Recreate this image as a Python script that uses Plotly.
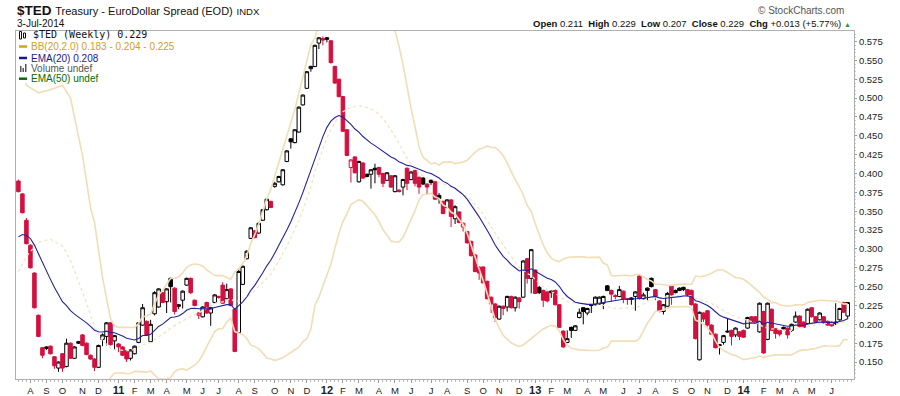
import numpy as np
import pandas as pd
import plotly.graph_objects as go

# ---------------- data (weekly $TED) ----------------
first_week = "2010-07-12"

opens = [0.390,0.373,0.338,0.305,0.268,0.212,0.169,0.170,0.171,0.157,
         0.142,0.161,0.144,0.175,0.155,0.177,0.186,0.175,0.159,0.154,
         0.143,0.180,0.184,0.202,0.178,0.174,0.170,0.165,0.155,0.161,
         0.176,0.199,0.204,0.177,0.214,0.223,0.242,0.230,0.261,0.248,
         0.226,0.232,0.252,0.261,0.232,0.212,0.210,0.229,0.215,0.229,
         0.237,0.252,0.234,0.247,0.220,0.189,0.253,0.287,0.314,0.324,
         0.321,0.338,0.352,0.363,0.383,0.389,0.385,0.416,0.446,0.441,
         0.455,0.491,0.513,0.539,0.542,0.573,0.579,0.580,0.576,0.542,
         0.525,0.502,0.458,0.408,0.422,0.389,0.414,0.399,0.399,0.407,
         0.408,0.400,0.391,0.397,0.376,0.378,0.382,0.407,0.392,0.404,
         0.395,0.394,0.386,0.391,0.389,0.371,0.363,0.355,0.365,0.340,
         0.349,0.329,0.323,0.310,0.292,0.276,0.276,0.257,0.236,0.227,
         0.207,0.224,0.223,0.237,0.222,0.235,0.236,0.287,0.261,0.272,
         0.249,0.245,0.243,0.244,0.245,0.226,0.191,0.176,0.196,0.192,
         0.209,0.222,0.215,0.225,0.226,0.227,0.228,0.251,0.245,0.238,
         0.237,0.244,0.234,0.235,0.237,0.264,0.234,0.248,0.261,0.246,
         0.231,0.217,0.224,0.251,0.245,0.248,0.249,0.246,0.245,0.227,
         0.153,0.215,0.218,0.199,0.187,0.173,0.176,0.191,0.192,0.186,
         0.190,0.192,0.195,0.210,0.210,0.190,0.217,0.180,0.220,0.194,
         0.192,0.196,0.195,0.192,0.203,0.211,0.203,0.201,0.222,0.210,
         0.206,0.210,0.204,0.203,0.201,0.206,0.229,0.211]

highs = [0.392,0.374,0.341,0.306,0.269,0.213,0.170,0.171,0.172,0.158,
         0.151,0.162,0.181,0.176,0.171,0.178,0.187,0.176,0.160,0.155,
         0.173,0.188,0.203,0.203,0.186,0.175,0.171,0.166,0.167,0.172,
         0.203,0.227,0.205,0.206,0.244,0.248,0.243,0.248,0.262,0.249,
         0.227,0.245,0.262,0.262,0.233,0.216,0.224,0.230,0.223,0.240,
         0.238,0.256,0.254,0.248,0.221,0.273,0.278,0.298,0.329,0.325,
         0.335,0.353,0.367,0.364,0.389,0.397,0.406,0.431,0.447,0.459,
         0.489,0.505,0.536,0.543,0.571,0.581,0.582,0.581,0.577,0.543,
         0.526,0.503,0.459,0.419,0.423,0.417,0.415,0.400,0.406,0.413,
         0.409,0.401,0.402,0.398,0.398,0.379,0.393,0.408,0.403,0.405,
         0.396,0.395,0.387,0.392,0.390,0.374,0.364,0.366,0.366,0.358,
         0.350,0.335,0.324,0.311,0.293,0.277,0.277,0.258,0.237,0.228,
         0.225,0.225,0.238,0.238,0.237,0.236,0.285,0.288,0.300,0.273,
         0.251,0.246,0.244,0.245,0.246,0.227,0.192,0.192,0.197,0.199,
         0.221,0.223,0.222,0.227,0.237,0.237,0.238,0.252,0.246,0.240,
         0.251,0.245,0.235,0.236,0.244,0.265,0.242,0.249,0.262,0.247,
         0.232,0.227,0.243,0.252,0.246,0.249,0.250,0.247,0.246,0.228,
         0.217,0.216,0.219,0.200,0.188,0.174,0.186,0.208,0.193,0.196,
         0.191,0.193,0.210,0.211,0.211,0.229,0.218,0.229,0.221,0.195,
         0.193,0.197,0.196,0.201,0.217,0.212,0.204,0.221,0.223,0.211,
         0.216,0.211,0.205,0.204,0.228,0.222,0.230,0.229]

lows = [0.375,0.347,0.306,0.274,0.221,0.183,0.155,0.166,0.160,0.141,
        0.137,0.137,0.143,0.154,0.154,0.174,0.171,0.159,0.153,0.138,
        0.142,0.171,0.172,0.172,0.166,0.163,0.158,0.150,0.152,0.160,
        0.175,0.198,0.185,0.176,0.212,0.222,0.228,0.215,0.229,0.213,
        0.220,0.221,0.251,0.240,0.224,0.207,0.209,0.214,0.198,0.228,
        0.234,0.227,0.233,0.224,0.163,0.188,0.252,0.286,0.313,0.314,
        0.320,0.337,0.351,0.354,0.381,0.388,0.384,0.415,0.433,0.440,
        0.454,0.490,0.512,0.535,0.541,0.565,0.570,0.574,0.546,0.519,
        0.501,0.455,0.423,0.388,0.400,0.388,0.393,0.395,0.380,0.387,
        0.395,0.382,0.390,0.381,0.375,0.375,0.371,0.378,0.391,0.383,
        0.373,0.385,0.372,0.385,0.365,0.360,0.346,0.354,0.329,0.333,
        0.334,0.323,0.307,0.290,0.269,0.259,0.254,0.233,0.215,0.203,
        0.206,0.212,0.217,0.221,0.217,0.221,0.235,0.254,0.241,0.240,
        0.240,0.223,0.229,0.235,0.225,0.195,0.169,0.175,0.182,0.191,
        0.208,0.200,0.212,0.215,0.225,0.226,0.220,0.244,0.230,0.233,
        0.236,0.228,0.226,0.226,0.218,0.233,0.233,0.232,0.249,0.232,
        0.216,0.213,0.223,0.226,0.241,0.244,0.244,0.237,0.225,0.180,
        0.152,0.203,0.197,0.186,0.168,0.160,0.173,0.189,0.172,0.183,
        0.179,0.182,0.194,0.202,0.201,0.189,0.161,0.179,0.191,0.181,
        0.184,0.193,0.181,0.190,0.202,0.196,0.195,0.200,0.209,0.202,
        0.205,0.201,0.198,0.197,0.199,0.205,0.215,0.207]

closes = [0.376,0.348,0.307,0.275,0.222,0.184,0.159,0.168,0.161,0.145,
          0.150,0.142,0.175,0.155,0.170,0.175,0.172,0.160,0.154,0.143,
          0.172,0.186,0.202,0.173,0.185,0.170,0.159,0.154,0.166,0.171,
          0.202,0.222,0.186,0.200,0.242,0.247,0.229,0.247,0.250,0.217,
          0.224,0.244,0.261,0.242,0.225,0.215,0.223,0.215,0.222,0.239,
          0.236,0.228,0.246,0.225,0.164,0.270,0.277,0.297,0.328,0.315,
          0.334,0.352,0.366,0.355,0.387,0.396,0.405,0.430,0.442,0.458,
          0.488,0.504,0.535,0.542,0.570,0.580,0.577,0.578,0.547,0.520,
          0.502,0.456,0.424,0.418,0.401,0.416,0.394,0.396,0.405,0.405,
          0.399,0.387,0.401,0.382,0.397,0.376,0.392,0.387,0.402,0.387,
          0.382,0.386,0.382,0.388,0.366,0.367,0.347,0.365,0.343,0.356,
          0.335,0.334,0.308,0.291,0.270,0.268,0.255,0.234,0.227,0.209,
          0.224,0.221,0.237,0.222,0.236,0.230,0.284,0.261,0.299,0.241,
          0.242,0.232,0.231,0.242,0.226,0.196,0.170,0.181,0.192,0.198,
          0.216,0.217,0.221,0.226,0.236,0.236,0.237,0.245,0.240,0.237,
          0.246,0.234,0.233,0.233,0.243,0.234,0.239,0.245,0.250,0.237,
          0.217,0.226,0.241,0.239,0.242,0.245,0.246,0.239,0.226,0.181,
          0.216,0.207,0.199,0.187,0.169,0.172,0.185,0.190,0.184,0.195,
          0.184,0.183,0.209,0.203,0.202,0.228,0.162,0.228,0.192,0.188,
          0.187,0.194,0.186,0.200,0.211,0.197,0.196,0.220,0.210,0.203,
          0.215,0.202,0.199,0.198,0.203,0.221,0.216,0.229]

# EMA(20) value at the first visible bar
ema_seed = 0.316

# Bollinger band values for bars before a full 20-bar window
bb_early_idx = [0, 2, 5, 8, 11, 13, 16, 18]
bb_upper_early = [0.545, 0.517, 0.507, 0.511, 0.517, 0.500, 0.424, 0.355]
bb_mid_early = [0.270, 0.290, 0.309, 0.313, 0.304, 0.285, 0.243, 0.212]

month_labels = ["A", "S", "O", "N", "D", "11", "F", "M", "A", "M", "J", "J",
                "A", "S", "O", "N", "D", "12", "F", "M", "A", "M", "J", "J",
                "A", "S", "O", "N", "D", "13", "F", "M", "A", "M", "J", "J",
                "A", "S", "O", "N", "D", "14", "F", "M", "A", "M", "J"]
first_label_month = "2010-08"

y_ticks = [0.150, 0.175, 0.200, 0.225, 0.250, 0.275, 0.300, 0.325, 0.350,
           0.375, 0.400, 0.425, 0.450, 0.475, 0.500, 0.525, 0.550, 0.575]

# ---------------- derived ----------------
n = len(closes)
dates = pd.date_range(first_week, periods=n, freq="7D")
c = np.array(closes)

# EMA(20)
alpha = 2.0 / 21.0
ema = [ema_seed]
for v in closes[1:]:
    ema.append(ema[-1] + alpha * (v - ema[-1]))

# Bollinger(20, 2)
full_idx = list(range(19, n))
mid_calc = [c[i - 19:i + 1].mean() for i in full_idx]
sd_calc = [c[i - 19:i + 1].std() for i in full_idx]
up_calc = [m + 2 * s for m, s in zip(mid_calc, sd_calc)]
lo_calc = [m - 2 * s for m, s in zip(mid_calc, sd_calc)]

x_up = [dates[i] for i in bb_early_idx] + [dates[i] for i in full_idx]
y_up = bb_upper_early + up_calc
y_mid = bb_mid_early + mid_calc
x_lo = [dates[i] for i in full_idx]

# month tick positions: first weekly bar whose Friday is in the month
months = pd.period_range(first_label_month, periods=len(month_labels), freq="M")
fridays = dates + pd.Timedelta(days=4)
tickvals = []
for m in months:
    mask = (fridays.year == m.year) & (fridays.month == m.month)
    tickvals.append(dates[int(np.argmax(mask))])
ticktext = [f"<b><span style='font-size:11px'>{t}</span></b>" if t.isdigit() else t
            for t in month_labels]

RED = "#D3103F"
BB_COL = "#F1DDB6"
EMA_COL = "#22229C"

fig = go.Figure()

fig.add_trace(go.Scatter(x=x_up, y=y_up, mode="lines",
                         line=dict(color=BB_COL, width=1.6), hoverinfo="skip"))
fig.add_trace(go.Scatter(x=x_lo, y=lo_calc, mode="lines",
                         line=dict(color=BB_COL, width=1.6), hoverinfo="skip"))
fig.add_trace(go.Scatter(x=x_up, y=y_mid, mode="lines",
                         line=dict(color="#F3E2C4", width=1.3, dash="dot"), hoverinfo="skip"))
fig.add_trace(go.Scatter(x=dates, y=ema, mode="lines",
                         line=dict(color=EMA_COL, width=1.1), hoverinfo="skip"))

# candles: red if close < previous close, filled if close < open
prev = [opens[0]] + closes[:-1]
styles = {
    (False, False): ("white", "black"),
    (False, True): ("black", "black"),
    (True, False): ("white", RED),
    (True, True): (RED, RED),
}
for key, (fill, edge) in styles.items():
    idx = [i for i in range(n)
           if (closes[i] < prev[i]) == key[0] and (closes[i] < opens[i]) == key[1]]
    if not idx:
        continue
    st = dict(fillcolor=fill, line=dict(color=edge, width=1))
    fig.add_trace(go.Candlestick(
        x=[dates[i] for i in idx],
        open=[opens[i] for i in idx], high=[highs[i] for i in idx],
        low=[lows[i] for i in idx], close=[closes[i] for i in idx],
        increasing=st, decreasing=st, whiskerwidth=0, hoverinfo="skip"))

# ---------------- layout ----------------
L, R, T, B = 16, 854, 31, 379
def px(xp):
    return (xp - L) / (R - L)
def py(yp):
    return (B - yp) / (B - T)

fig.update_layout(
    width=900, height=396,
    margin=dict(l=L, r=900 - R, t=T, b=396 - B, pad=0, autoexpand=False),
    paper_bgcolor="white", plot_bgcolor="white",
    showlegend=False, hovermode=False,
    boxgap=0.12, boxgroupgap=0,
    font=dict(family="Liberation Sans, Arial, sans-serif", size=10, color="#222"),
)
fig.update_xaxes(
    type="date", automargin=False,
    range=[dates[0] - pd.Timedelta(days=4.2), dates[-1] + pd.Timedelta(days=11)],
    rangeslider=dict(visible=False),
    tickmode="array", tickvals=tickvals, ticktext=ticktext,
    ticks="outside", ticklen=3, tickcolor="#999",
    showline=True, linecolor="#b0b0b0", linewidth=1, mirror=True,
    showgrid=False, zeroline=False,
    minor=dict(dtick=7 * 86400000, tick0=first_week, ticks="outside",
               ticklen=2, tickcolor="#bbb", showgrid=False),
    tickfont=dict(size=9.5, color="#222"),
)
fig.update_yaxes(
    side="right", automargin=False, range=[0.1275, 0.589],
    tickmode="array", tickvals=y_ticks, tickformat=".3f",
    ticks="outside", ticklen=2, tickcolor="#999",
    showline=True, linecolor="#b0b0b0", linewidth=1, mirror=True,
    showgrid=False, zeroline=False,
    minor=dict(dtick=0.005, ticks="outside", ticklen=1, tickcolor="#ccc", showgrid=False),
    tickfont=dict(size=9.5, color="#222"),
)

# legend background
fig.add_shape(type="rect", xref="paper", yref="paper",
              x0=px(L + 0.5), x1=px(172), y0=py(83), y1=py(T + 0.5),
              fillcolor="white", line=dict(width=0), layer="above")

ann = []
def add(text, x, y, xanchor="left", size=11, color="#222", family=None):
    f = dict(size=size, color=color)
    if family:
        f["family"] = family
    ann.append(dict(text=text, x=px(x), y=py(y), xref="paper", yref="paper",
                    xanchor=xanchor, yanchor="middle", showarrow=False, font=f))

add("<b>$TED</b> <span style='font-size:11px'>Treasury - EuroDollar Spread (EOD)</span>"
    " <span style='font-size:9.5px'>INDX</span>", 15, 11, size=13.5, color="#111")
add("3-Jul-2014", 15, 24, size=10, color="#111")
add("© StockCharts.com", 846, 10, xanchor="right", size=10, color="#555")
add("<b>Open</b> 0.211  <b>High</b> 0.229  <b>Low</b> 0.207  <b>Close</b> 0.229  "
    "<b>Chg</b> +0.013 (+5.77%) <span style='color:#2a9a2a;font-size:7px'>▲</span>",
    853, 24, xanchor="right", size=9.5, color="#111")

add("$TED (Weekly) 0.229", 31, 35, size=10, color="#111", family="DejaVu Sans Mono")
add("BB(20,2.0) 0.183 - 0.204 - 0.225", 29, 46.5, size=10, color="#D4A020")
add("EMA(20) 0.208", 29, 58, size=10, color="#1a1a8c")
add("Volume undef", 29, 68.7, size=10, color="#555")
add("EMA(50) undef", 28.5, 78.7, size=10, color="#0a6a0a")
fig.update_layout(annotations=ann)

# legend icons
def hline(y, color):
    fig.add_shape(type="line", xref="paper", yref="paper",
                  x0=px(19), x1=px(27), y0=py(y), y1=py(y),
                  line=dict(color=color, width=2.5), layer="above")
hline(46.5, "#D4A020")
hline(58, "#1a1a8c")
hline(78.7, "#0a6a0a")
for k, (h0, h1) in enumerate([(66, 72), (68, 72), (64, 72)]):
    fig.add_shape(type="rect", xref="paper", yref="paper",
                  x0=px(20 + 2.5 * k), x1=px(21.5 + 2.5 * k), y0=py(h1), y1=py(h0),
                  fillcolor="#555", line=dict(width=0), layer="above")
for k, (h0, h1) in enumerate([(31.5, 39), (33, 38)]):
    fig.add_shape(type="rect", xref="paper", yref="paper",
                  x0=px(19.5 + 4 * k), x1=px(21.5 + 4 * k), y0=py(h1), y1=py(h0),
                  fillcolor="white", line=dict(color="#111", width=1), layer="above")

# the page's default body margin would shift the figure; remove it
fig.write_html("out.html", config={"displayModeBar": False},
               post_script="document.body.style.margin='0px';document.body.style.padding='0px';")
